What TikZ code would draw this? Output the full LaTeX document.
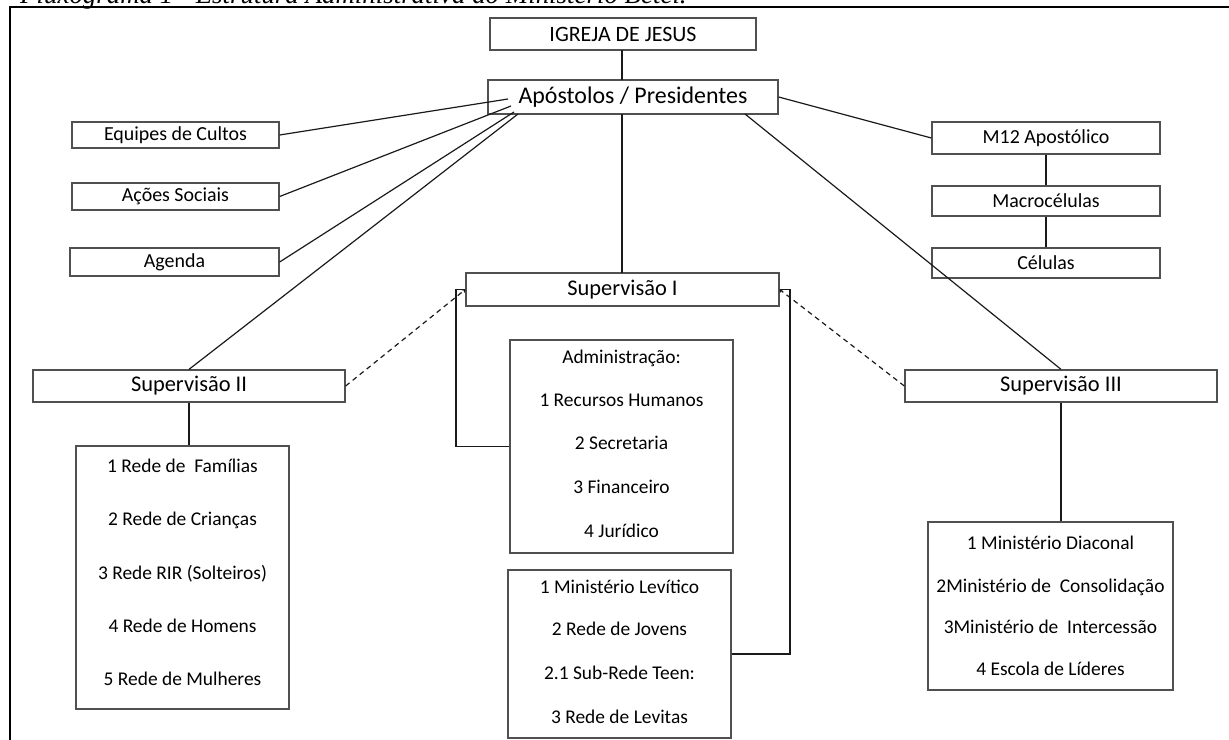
\documentclass[tikz,border=0pt]{standalone}
\usepackage{fontspec}
\setmainfont{Carlito}
\newfontfamily\capfont{Liberation Serif}
\usetikzlibrary{arrows.meta}
\definecolor{boxgray}{HTML}{505050}
\definecolor{linegray}{HTML}{1A1A1A}
\begin{document}
\begin{tikzpicture}[x=1bp,y=-1bp,
  box/.style={draw=boxgray, line width=1.3bp, inner sep=0pt, fill=white},
  big/.style={font=\fontsize{22.5}{26}\selectfont},
  bigger/.style={font=\fontsize{24}{28}\selectfont},
  mid/.style={font=\fontsize{22}{25}\selectfont},
  small/.style={font=\fontsize{20}{23}\selectfont},
  txt/.style={inner sep=0pt, anchor=mid, font=\fontsize{19.5}{22}\selectfont},
  conn/.style={draw=linegray, line width=1.2bp},
  dashconn/.style={draw=linegray, line width=1.2bp, dashed, dash pattern=on 5bp off 4bp, -{To[length=3bp,width=4bp]}},
  frame/.style={draw=black, line width=2bp}
]
\useasboundingbox (0,0) rectangle (1229,740);
% caption (cut off at the top)
\node[inner sep=0pt, anchor=base west, font=\capfont\itshape\fontsize{27}{30}\selectfont] (cap) at (20,4) {Fluxograma 1 - Estrutura Administrativa do Ministério Betel.};
% outer frame
\coordinate (fb) at (10,742);
\coordinate (ft) at (10,7);
\coordinate (fr) at (1231,7);
\draw[frame] (fb) -- (ft) -- (fr);

% boxes
\node[box, mid, minimum width=266bp, minimum height=32bp] (igreja) at (623,34) {IGREJA DE JESUS};
\node[box, bigger, minimum width=290bp, minimum height=34bp] (apost) at (633,97) {Apóstolos / Presidentes};
\node[box, small, minimum width=207bp, minimum height=26bp] (equipes) at (175.5,135) {Equipes de Cultos};
\node[box, small, minimum width=207bp, minimum height=27bp] (acoes) at (175.5,196.5) {Ações Sociais};
\node[box, small, minimum width=209bp, minimum height=28bp] (agenda) at (174.5,262) {Agenda};
\node[box, small, minimum width=228bp, minimum height=32bp] (m12) at (1046,138) {M12 Apostólico};
\node[box, small, minimum width=228bp, minimum height=30bp] (macro) at (1046,201) {Macrocélulas};
\node[box, small, minimum width=228bp, minimum height=30bp] (celulas) at (1046,263) {Células};
\node[box, big, minimum width=313bp, minimum height=33bp] (sup1) at (622.5,289.5) {Supervisão I};
\node[box, big, minimum width=312bp, minimum height=32bp] (sup2) at (189,386) {Supervisão II};
\node[box, big, minimum width=312bp, minimum height=32bp] (sup3) at (1061,386) {Supervisão III};

\node[box, minimum width=213bp, minimum height=263bp] (list2) at (182.5,577.5) {};
\node[box, minimum width=223bp, minimum height=213bp] (admin) at (621.5,446.5) {};
\node[box, minimum width=223bp, minimum height=168bp] (lev) at (619.5,654) {};
\node[box, minimum width=245bp, minimum height=168bp] (list3) at (1050.5,606) {};

% list texts
\node[txt] (l2a) at (182.5,470) {1 Rede de\ \ Famílias};
\node[txt] (l2b) at (182.5,523) {2 Rede de Crianças};
\node[txt] (l2c) at (182.5,577) {3 Rede RIR (Solteiros)};
\node[txt] (l2d) at (182.5,630) {4 Rede de Homens};
\node[txt] (l2e) at (182.5,683) {5 Rede de Mulheres};

\node[txt] (ada) at (621.5,361) {Administração:};
\node[txt] (adb) at (621.5,404) {1 Recursos Humanos};
\node[txt] (adc) at (621.5,447) {2 Secretaria};
\node[txt] (add) at (621.5,491) {3 Financeiro};
\node[txt] (ade) at (621.5,535) {4 Jurídico};

\node[txt] (lva) at (619.5,591) {1 Ministério Levítico};
\node[txt] (lvb) at (619.5,633) {2 Rede de Jovens};
\node[txt] (lvc) at (619.5,677) {2.1 Sub-Rede Teen:};
\node[txt] (lvd) at (619.5,721) {3 Rede de Levitas};

\node[txt] (l3a) at (1050.5,547) {1 Ministério Diaconal};
\node[txt] (l3b) at (1050.5,590) {2Ministério de\ \ Consolidação};
\node[txt] (l3c) at (1050.5,631) {3Ministério de\ \ Intercessão};
\node[txt] (l3d) at (1050.5,673) {4 Escola de Líderes};

% connector end points on the Apostolos box
\coordinate (aEq) at (508,99);
\coordinate (aAc) at (511,106);
\coordinate (aAg) at (514,112);
\coordinate (aS2) at (518,114);
\coordinate (aS3) at (745,114);
\coordinate (aC) at (622,114);
\coordinate (iC) at (622,50);
\coordinate (aTop) at (622,80);
\coordinate (sup1top) at (622,273);

\draw[conn] (iC) -- (aTop);
\draw[conn] (equipes.east) -- (aEq);
\draw[conn] (acoes.east) -- (aAc);
\draw[conn] (agenda.east) -- (aAg);
\draw[conn] (sup2.north) -- (aS2);
\draw[conn] (aC) -- (sup1top);
\draw[conn] (apost.east) -- (m12.west);
\draw[conn] (aS3) -- (sup3.north);
\draw[conn] (m12.south) -- (macro.north);
\draw[conn] (macro.south) -- (celulas.north);
\draw[conn] (sup2.south) -- (sup2.south |- list2.north);
\draw[conn] (sup3.south) -- (sup3.south |- list3.north);

% brackets
\coordinate (bl1) at (456,289.5);
\coordinate (bl2) at (456,446.5);
\coordinate (br1) at (790,289.5);
\coordinate (br2) at (790,654);
\draw[conn] (sup1.west) -- (bl1) -- (bl2) -- (admin.west);
\draw[conn] (sup1.east) -- (br1) -- (br2) -- (lev.east);

% dashed links
\draw[dashconn] (sup2.east) -- (sup1.west);
\draw[dashconn] (sup3.west) -- (sup1.east);
\end{tikzpicture}
\end{document}
